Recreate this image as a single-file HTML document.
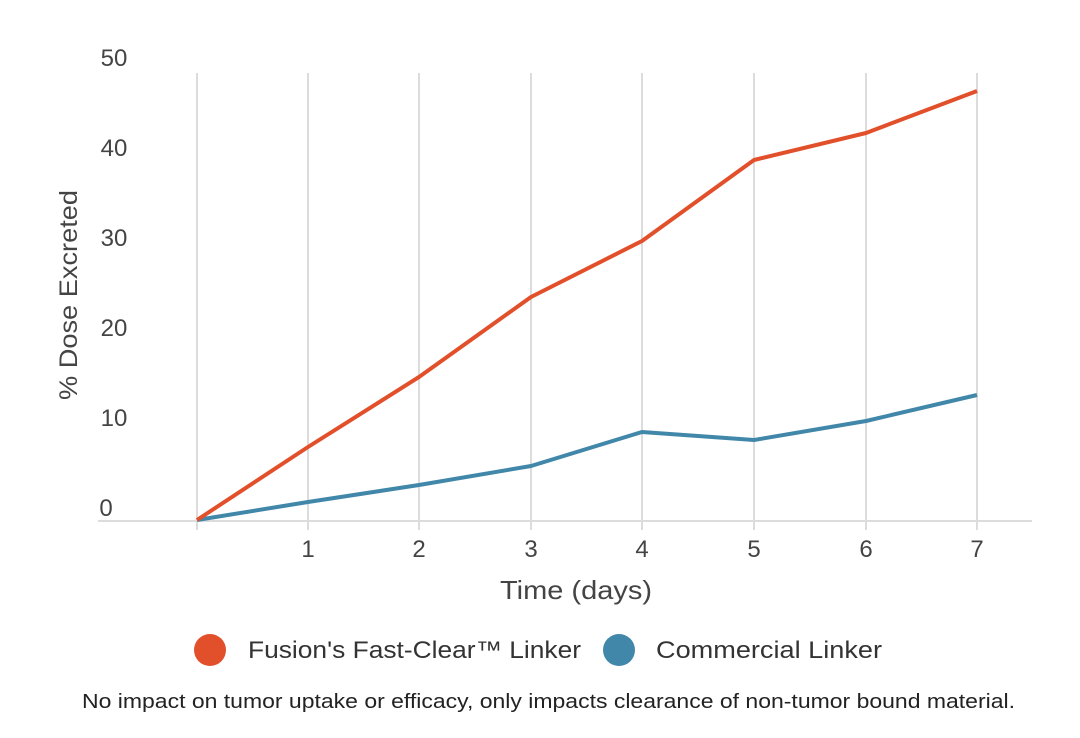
<!DOCTYPE html>
<html><head><style>
body{margin:0;background:#fff;}
svg{display:block;font-family:"Liberation Sans",sans-serif;}
</style></head><body>
<svg width="1080" height="738" viewBox="0 0 1080 738">
<g stroke="#dcdcdc" stroke-width="2">
<line x1="197" y1="73" x2="197" y2="530"/><line x1="308" y1="73" x2="308" y2="530"/>
<line x1="419" y1="73" x2="419" y2="530"/><line x1="531" y1="73" x2="531" y2="530"/>
<line x1="642" y1="73" x2="642" y2="530"/><line x1="754" y1="73" x2="754" y2="530"/>
<line x1="866" y1="73" x2="866" y2="530"/><line x1="977" y1="73" x2="977" y2="530"/>
<line x1="98" y1="521" x2="1032" y2="521"/>
</g>
<g fill="#444" font-size="24" text-anchor="middle">
<text x="114" y="66">50</text><text x="114" y="156">40</text><text x="114" y="246">30</text>
<text x="114" y="336">20</text><text x="114" y="426">10</text><text x="106" y="516">0</text>
<text x="308" y="557">1</text><text x="419" y="557">2</text><text x="531" y="557">3</text>
<text x="642" y="557">4</text><text x="754" y="557">5</text><text x="866" y="557">6</text><text x="977" y="557">7</text>
<text x="576" y="599" font-size="26" textLength="152" lengthAdjust="spacingAndGlyphs">Time (days)</text>
<text transform="translate(77,295) rotate(-90)" font-size="25" textLength="210" lengthAdjust="spacingAndGlyphs">% Dose Excreted</text>
</g>
<polyline fill="none" stroke="#4187a9" stroke-width="4" stroke-linejoin="round" points="197,520 308,502 419,485 531,466 642,432 754,440 866,421 977,395"/>
<polyline fill="none" stroke="#e2502b" stroke-width="4" stroke-linejoin="round" points="197,520 308,447 419,377 531,297 642,241 754,160 866,133 977,91"/>
<circle cx="210" cy="650" r="16" fill="#e2502b"/>
<text x="248" y="658" font-size="24" fill="#333" textLength="333" lengthAdjust="spacingAndGlyphs">Fusion's Fast-Clear™ Linker</text>
<circle cx="619" cy="650" r="16" fill="#4187a9"/>
<text x="656" y="658" font-size="24" fill="#333" textLength="226" lengthAdjust="spacingAndGlyphs">Commercial Linker</text>
<text x="82" y="708" font-size="20" fill="#222" textLength="933" lengthAdjust="spacingAndGlyphs">No impact on tumor uptake or efficacy, only impacts clearance of non-tumor bound material.</text>
</svg>
</body></html>
